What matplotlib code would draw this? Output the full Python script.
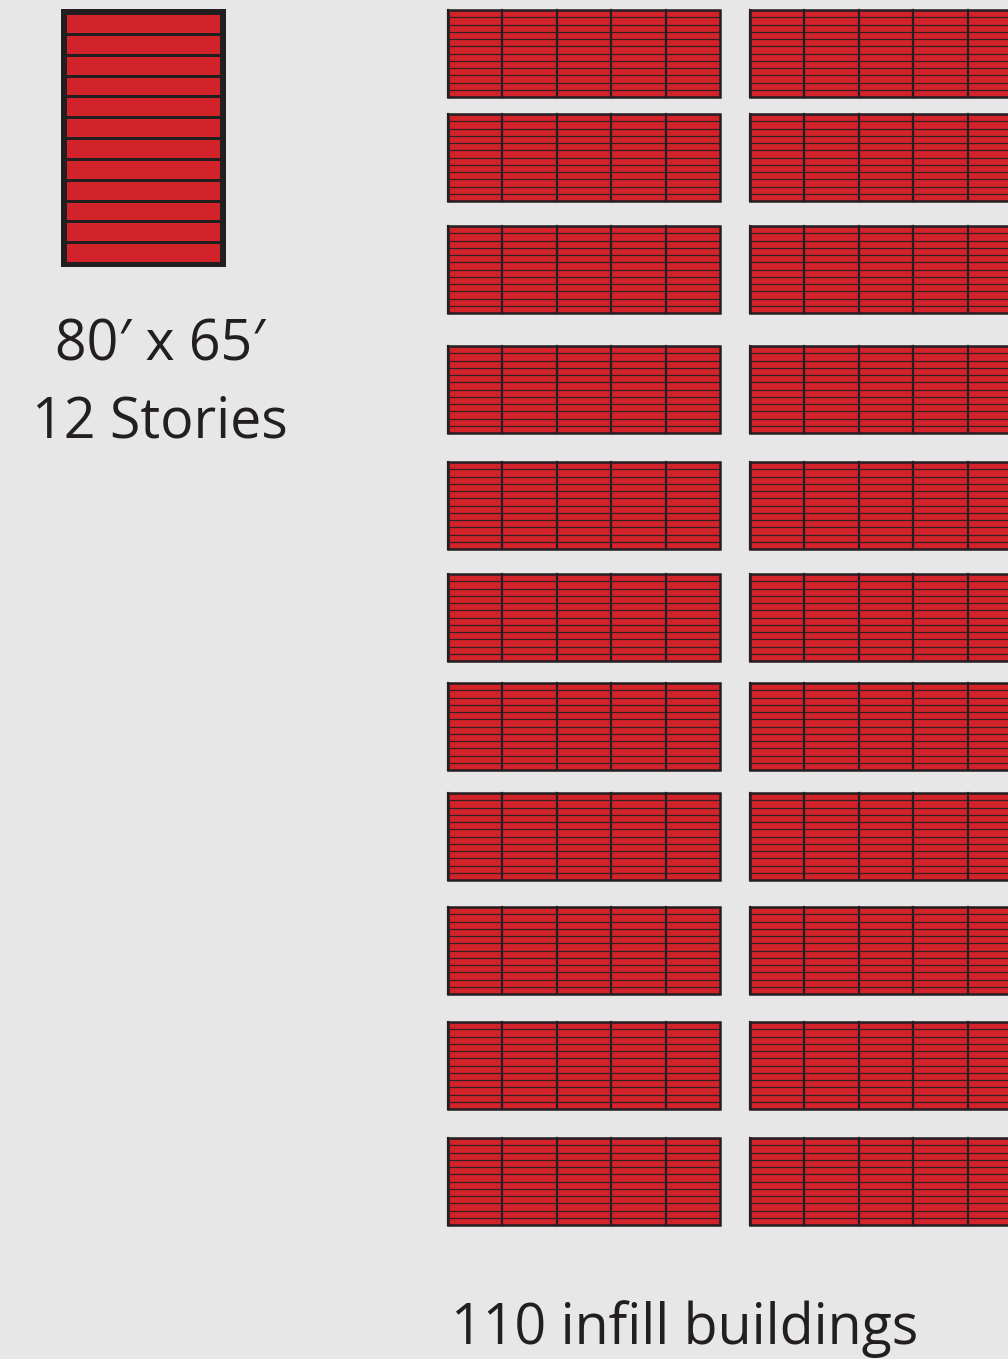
import matplotlib
matplotlib.use("Agg")
import matplotlib.pyplot as plt
from matplotlib.patches import Rectangle

# Data
tower_label = ["80\u2032 x 65\u2032", "12 Stories"]
tower_stories = 12
infill_rows = 11
infill_per_row = 10
infill_stories = 12
infill_label = "{} infill buildings".format(infill_rows * infill_per_row)

BG = "#e6e7e6"
RED = "#d2232a"
DARK = "#231f20"

# layout (pixels)
W, H = 1008, 1359
row_tops = [10, 114, 226, 346, 462, 574, 683, 793, 907, 1022, 1138]
row_h = 87
block_lefts = [448, 750]
bld_w = 54.4

fig = plt.figure(figsize=(W / 100, H / 100), dpi=100)
fig.patch.set_facecolor(BG)
ax = fig.add_axes([0, 0, 1, 1])
ax.set_xlim(0, W)
ax.set_ylim(H, 0)
ax.axis("off")

# big tower
ax.add_patch(Rectangle((61, 9), 165, 258, facecolor=DARK, edgecolor="none"))
inner_top, inner_bot = 15, 262
band = (inner_bot - inner_top + 3) / tower_stories
for i in range(tower_stories):
    ax.add_patch(Rectangle((67, inner_top + i * band), 153, band - 3,
                           facecolor=RED, edgecolor="none"))

for i, t in enumerate(tower_label):
    ax.text(160, 346 + i * 77, t, ha="center", va="center", fontsize=40,
            family="Open Sans", color=DARK)

# infill blocks
per_block = infill_per_row // len(block_lefts)
for top in row_tops:
    for left in block_lefts:
        for b in range(per_block):
            x0 = left + b * bld_w
            ax.add_patch(Rectangle((x0, top), bld_w, row_h, facecolor=RED,
                                   edgecolor="none"))
            for s in range(1, infill_stories):
                y = top + s * row_h / infill_stories
                ax.plot([x0, x0 + bld_w], [y, y], color=DARK, lw=0.9,
                        alpha=0.9, solid_capstyle="butt")
            ax.plot([x0, x0], [top, top + row_h], color=DARK, lw=1.6)
        ax.add_patch(Rectangle((left, top), per_block * bld_w, row_h,
                               facecolor="none", edgecolor=DARK, lw=1.8))

ax.text(685, 1329, infill_label, ha="center", va="center", fontsize=40,
        family="Open Sans", color=DARK)

fig.savefig("out.png", dpi=100, facecolor=BG)
